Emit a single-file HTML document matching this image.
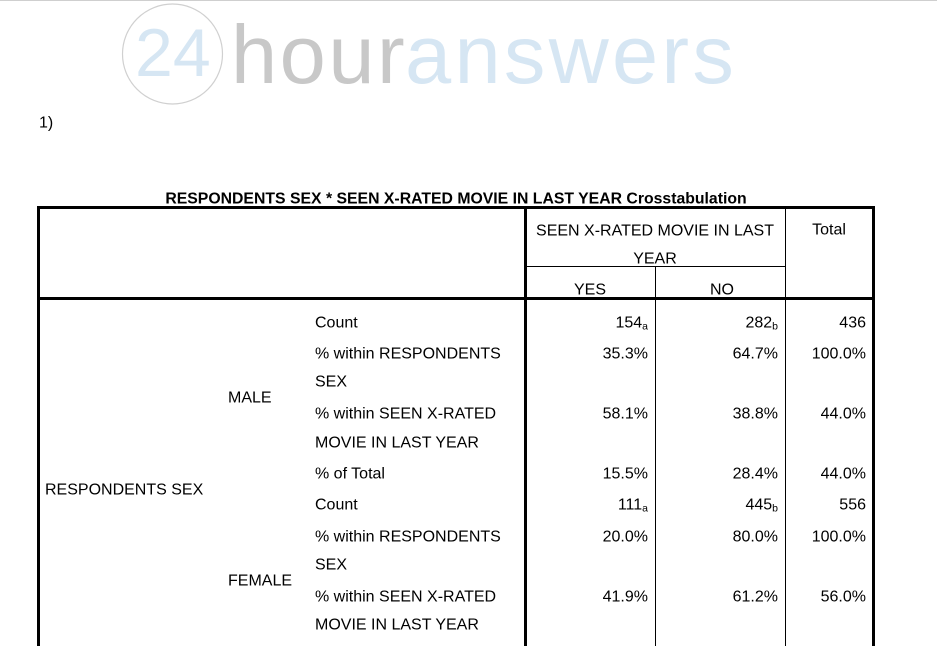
<!DOCTYPE html>
<html>
<head>
<meta charset="utf-8">
<style>
html,body{margin:0;padding:0;background:#fff;}
body{width:937px;height:635px;position:relative;overflow:hidden;font-family:"Liberation Sans",Arial,sans-serif;color:#000;}
.t{position:absolute;font-size:16px;line-height:20px;white-space:nowrap;transform:translateY(1.5px);}
.r{text-align:right;}
.c{text-align:center;}
.ln{position:absolute;background:#000;}
.sub{font-size:10.5px;position:relative;top:2px;line-height:0;}
</style>
</head>
<body>
<div class="ln" style="left:0;top:0;width:937px;height:1px;background:#cfcfcf;"></div>

<svg style="position:absolute;left:0;top:0" width="937" height="110">
  <circle cx="172.5" cy="54" r="50" fill="none" stroke="#d0d0d0" stroke-width="1.2"/>
  <text x="135" y="76" font-family="Liberation Sans, Arial, sans-serif" font-size="68" fill="#d6e6f3">24</text>
  <text x="231" y="83" font-family="Liberation Sans, Arial, sans-serif" font-size="83" fill="#c8c8c8" letter-spacing="2.5">hour</text>
  <text x="405" y="83" font-family="Liberation Sans, Arial, sans-serif" font-size="83" fill="#d6e6f3" letter-spacing="3.3">answers</text>
</svg>

<div class="t" style="left:39px;top:112px;font-size:16px;">1)</div>

<div class="t c" style="left:156px;width:600px;top:188px;font-weight:bold;font-size:15.8px;">RESPONDENTS SEX * SEEN X-RATED MOVIE IN LAST YEAR Crosstabulation</div>

<!-- table lines -->
<div class="ln" style="left:37px;top:206px;width:838px;height:3px;"></div>
<div class="ln" style="left:37px;top:206px;width:3px;height:440px;"></div>
<div class="ln" style="left:872px;top:206px;width:3px;height:440px;"></div>
<div class="ln" style="left:37px;top:297px;width:838px;height:3px;"></div>
<div class="ln" style="left:524px;top:206px;width:3px;height:440px;"></div>
<div class="ln" style="left:525px;top:266px;width:260px;height:1px;"></div>
<div class="ln" style="left:655px;top:266px;width:1px;height:380px;"></div>
<div class="ln" style="left:785px;top:206px;width:1px;height:440px;"></div>

<!-- header -->
<div class="t c" style="left:535px;width:240px;top:220px;">SEEN X-RATED MOVIE IN LAST</div>
<div class="t c" style="left:605px;width:100px;top:248px;">YEAR</div>
<div class="t c" style="left:540px;width:100px;top:279px;">YES</div>
<div class="t c" style="left:672px;width:100px;top:279px;">NO</div>
<div class="t c" style="left:789px;width:80px;top:219px;">Total</div>

<!-- row labels -->
<div class="t" style="left:45px;top:479px;">RESPONDENTS SEX</div>
<div class="t" style="left:228px;top:387px;">MALE</div>
<div class="t" style="left:228px;top:570px;">FEMALE</div>

<div class="t" style="left:315px;top:312px;">Count</div>
<div class="t" style="left:315px;top:343px;">% within RESPONDENTS</div>
<div class="t" style="left:315px;top:371px;">SEX</div>
<div class="t" style="left:315px;top:403px;">% within SEEN X-RATED</div>
<div class="t" style="left:315px;top:432px;">MOVIE IN LAST YEAR</div>
<div class="t" style="left:315px;top:463px;">% of Total</div>
<div class="t" style="left:315px;top:494px;">Count</div>
<div class="t" style="left:315px;top:526px;">% within RESPONDENTS</div>
<div class="t" style="left:315px;top:554px;">SEX</div>
<div class="t" style="left:315px;top:586px;">% within SEEN X-RATED</div>
<div class="t" style="left:315px;top:614px;">MOVIE IN LAST YEAR</div>

<!-- YES column -->
<div class="t r" style="right:289px;top:312px;">154<span class="sub">a</span></div>
<div class="t r" style="right:289px;top:343px;">35.3%</div>
<div class="t r" style="right:289px;top:403px;">58.1%</div>
<div class="t r" style="right:289px;top:463px;">15.5%</div>
<div class="t r" style="right:289px;top:494px;">111<span class="sub">a</span></div>
<div class="t r" style="right:289px;top:526px;">20.0%</div>
<div class="t r" style="right:289px;top:586px;">41.9%</div>

<!-- NO column -->
<div class="t r" style="right:159px;top:312px;">282<span class="sub">b</span></div>
<div class="t r" style="right:159px;top:343px;">64.7%</div>
<div class="t r" style="right:159px;top:403px;">38.8%</div>
<div class="t r" style="right:159px;top:463px;">28.4%</div>
<div class="t r" style="right:159px;top:494px;">445<span class="sub">b</span></div>
<div class="t r" style="right:159px;top:526px;">80.0%</div>
<div class="t r" style="right:159px;top:586px;">61.2%</div>

<!-- Total column -->
<div class="t r" style="right:71px;top:312px;">436</div>
<div class="t r" style="right:71px;top:343px;">100.0%</div>
<div class="t r" style="right:71px;top:403px;">44.0%</div>
<div class="t r" style="right:71px;top:463px;">44.0%</div>
<div class="t r" style="right:71px;top:494px;">556</div>
<div class="t r" style="right:71px;top:526px;">100.0%</div>
<div class="t r" style="right:71px;top:586px;">56.0%</div>
</body>
</html>
